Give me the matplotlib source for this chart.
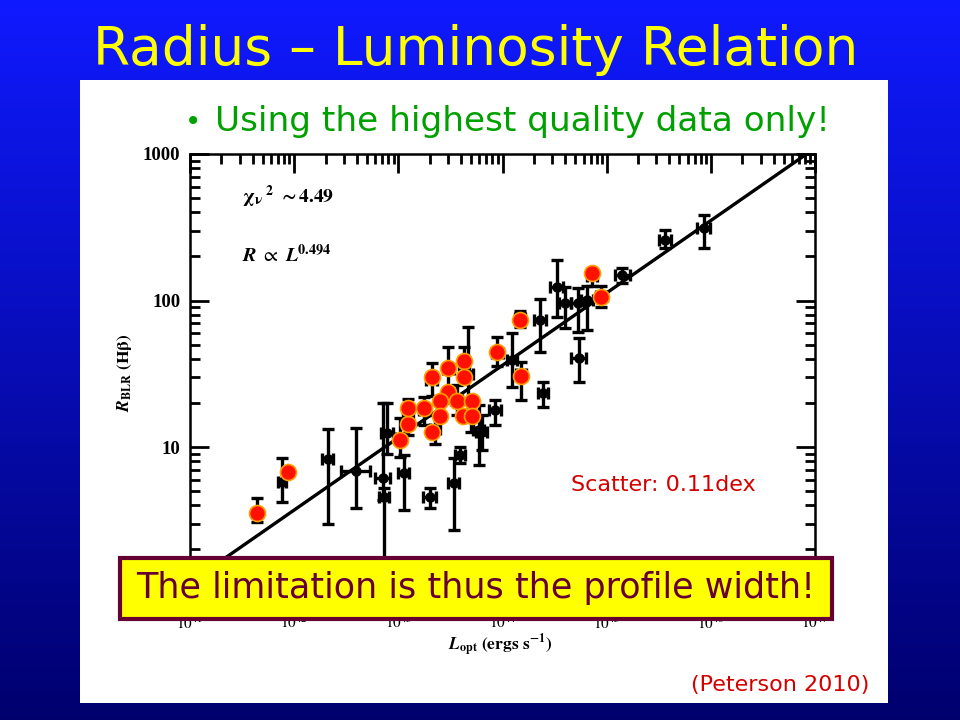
import numpy as np
import matplotlib
matplotlib.use("Agg")
from matplotlib import pyplot as plt
from matplotlib.patches import Rectangle

# black points (all reverberation data): log L_opt, R_BLR in light days,
# top/bottom of the R error bar, and x error in dex
black_logL = [41.64, 41.88, 42.32, 42.59, 42.85, 42.86, 42.89, 43.05, 43.30, 43.53,
              43.59, 43.77, 43.80, 43.93, 43.67, 44.09, 44.36, 44.39, 44.52, 44.60,
              44.72, 44.81, 44.73, 45.15, 45.56, 45.93,
              43.02, 43.09, 43.25, 43.32, 43.48, 43.63, 43.56, 43.35, 43.70, 43.95,
              44.17, 44.18, 44.86, 44.95]
black_R = [3.54, 5.77, 8.28, 6.86, 6.14, 4.56, 12.5, 6.64, 4.56, 5.68,
           8.8, 13.1, 12.6, 17.9, 31.6, 39.3, 73.6, 23.4, 124, 96,
           96, 101, 40.5, 149, 259, 313,
           11.5, 15.8, 17.8, 28.8, 33.9, 36.3, 20.9, 13.2, 16.2, 43.7,
           75.9, 31.6, 148, 107]
black_R_hi = [4.49, 8.41, 13.3, 13.5, 19.9, 5.25, 19.9, 8.8, 5.25, 8.41,
              10.0, 19.4, 16.6, 20.9, 66, 60, 102, 27.8, 189, 124,
              122, 126, 55.5, 166, 302, 384,
              15.8, 21.4, 21.9, 37.2, 48.2, 47.9, 26.3, 16.6, 20.0, 56.4,
              85.1, 38.0, 162, 126]
black_R_lo = [3.08, 4.22, 2.98, 3.84, 4.35, 0.32, 8.9, 3.72, 3.84, 2.71,
              7.8, 7.5, 9.5, 14.1, 17.8, 25.7, 44.5, 18.8, 77, 65,
              61, 63, 27.8, 132, 228, 228,
              8.5, 12.0, 14.1, 22.4, 25.1, 28.2, 16.6, 10.5, 12.6, 35.5,
              66.1, 20.9, 126, 91]
black_xerr = [0.03, 0.04, 0.05, 0.14, 0.07, 0.05, 0.06, 0.05, 0.06, 0.05,
              0.05, 0.05, 0.05, 0.06, 0.05, 0.05, 0.06, 0.05, 0.06, 0.06,
              0.06, 0.06, 0.07, 0.07, 0.06, 0.06,
              0.05, 0.05, 0.05, 0.05, 0.05, 0.05, 0.05, 0.05, 0.05, 0.05,
              0.05, 0.05, 0.05, 0.05]

# highest quality data (red circles)
red_logL = [41.64, 41.94, 43.02, 43.09, 43.09, 43.25, 43.32, 43.48, 43.63, 43.63,
            43.48, 43.40, 43.56, 43.71, 43.40, 43.32, 43.62, 43.71, 43.95, 44.17,
            44.18, 44.86, 44.95]
red_R = [3.54, 6.75, 11.2, 14.4, 18.5, 18.5, 30.1, 34.6, 38.6, 30.1,
         23.7, 20.6, 20.6, 20.6, 16.3, 12.6, 16.3, 16.3, 44.5, 73.6,
         30.5, 154, 106]

# fitted relation R ~ L^0.494, anchored on one point of the drawn line
fit_slope = 0.494
fit_logL0, fit_logR0 = 41.31, 0.229

x_ticks = [1e41, 1e42, 1e43, 1e44, 1e45, 1e46, 1e47]
x_ticklabels = ["$10^{41}$", "$10^{42}$", "$10^{43}$", "$10^{44}$",
                "$10^{45}$", "$10^{46}$", "$10^{47}$"]
y_ticks = [1, 10, 100, 1000]
y_ticklabels = ["", "10", "100", "1000"]  # the "1" sits under the yellow box

plt.rcParams["mathtext.fontset"] = "stix"
W, H = 960, 720
slide_font = "DejaVu Sans"


def fx(px):
    return px / W


def fy(py):
    return 1 - py / H


fig = plt.figure(figsize=(9.6, 7.2), dpi=100)

# slide background: blue gradient
bg = fig.add_axes([0, 0, 1, 1], zorder=-3)
t = np.linspace(0, 1, 256)[:, None]
top = np.array([0.06, 0.10, 1.0])
bottom = np.array([0.0, 0.0, 0.43])
grad = (top * (1 - t) + bottom * t)[:, None, :]
bg.imshow(grad, extent=[0, 1, 0, 1], aspect="auto")
bg.axis("off")

fig.add_artist(Rectangle((fx(80), fy(703)), 808 / W, 623 / H, transform=fig.transFigure,
                         fc="white", ec="none", zorder=-2))

ax = fig.add_axes([fx(190), fy(605), 625 / W, 451 / H])
ax.set_xscale("log")
ax.set_yscale("log")

L = 10 ** np.array(black_logL)
R = np.array(black_R)
xe = np.array(black_xerr)
yerr = [R - np.array(black_R_lo), np.array(black_R_hi) - R]
xerr = [L - 10 ** (np.array(black_logL) - xe), 10 ** (np.array(black_logL) + xe) - L]
ax.errorbar(L, R, xerr=xerr, yerr=yerr, fmt="o", color="black", ms=6.5,
            elinewidth=2.4, capsize=4.5, capthick=2.4, zorder=3)

x_line = np.array([1e41, 1e47])
r_line = 10 ** (fit_logR0 + fit_slope * (np.log10(x_line) - fit_logL0))
ax.plot(x_line, r_line, color="black", lw=2.4, zorder=2)

ax.plot(10 ** np.array(red_logL), red_R, "o", ms=11.5, mfc="#ff1100", mec="#ffa000",
        mew=1.2, zorder=4)

ax.set_xlim(1e41, 1e47)
ax.set_ylim(0.835, 1000)
ax.set_xticks(x_ticks, labels=x_ticklabels)
ax.set_yticks(y_ticks, labels=y_ticklabels)
ax.tick_params(which="both", direction="in", top=True, right=True, width=2)
ax.tick_params(which="major", length=14, pad=7)
ax.tick_params(axis="y", labelsize=13.5)
ax.tick_params(axis="x", labelsize=11)
ax.tick_params(which="minor", length=7)
for lab in ax.get_yticklabels() + ax.get_xticklabels():
    lab.set_fontfamily("Liberation Serif")
    lab.set_fontweight("bold")
for s in ax.spines.values():
    s.set_linewidth(1.8)

ax.text(0.083, 0.905, r"$\mathbf{\chi_{\nu}}^{\ \mathbf{2}}\ \mathbf{\sim 4.49}$",
        transform=ax.transAxes, fontsize=14, va="center")
ax.text(0.083, 0.775, r"$\mathbfit{R}\ \propto\ \mathbfit{L}^{\mathbf{0.494}}$",
        transform=ax.transAxes, fontsize=14.5, va="center")

fig.text(fx(125), fy(373), r"$\mathbfit{R}_{\mathbf{BLR}}\ \mathbf{(H\beta)}$",
         rotation=90, ha="center", va="center", fontsize=12.5)
fig.text(fx(500), fy(645), r"$\mathbfit{L}_{\mathbf{opt}}\ \mathbf{(ergs\ s^{-1})}$",
         ha="center", va="center", fontsize=12.5)

# slide texts
fig.text(fx(476), fy(50), "Radius \u2013 Luminosity Relation", color="#ffff00",
         fontsize=38.4, ha="center", va="center", family=slide_font)
fig.text(fx(185), fy(122), "\u2022", color="#00a000", fontsize=20, ha="left",
         va="center", family=slide_font)
fig.text(fx(215), fy(122), "Using the highest quality data only!", color="#00a000",
         fontsize=24.7, ha="left", va="center", family=slide_font)
fig.text(fx(663), fy(485), "Scatter: 0.11dex", color="#d40000", fontsize=16,
         ha="center", va="center", family=slide_font)
fig.text(fx(780), fy(685), "(Peterson 2010)", color="#d40000", fontsize=16,
         ha="center", va="center", family=slide_font)

fig.add_artist(Rectangle((fx(120), fy(619)), 712 / W, 61 / H, transform=fig.transFigure,
                         fc="#ffff00", ec="#660033", lw=3, zorder=5))
fig.text(fx(476), fy(588), "The limitation is thus the profile width!", color="#660033",
         fontsize=25.2, ha="center", va="center", family=slide_font, zorder=6)

fig.savefig("out.png", dpi=100)
